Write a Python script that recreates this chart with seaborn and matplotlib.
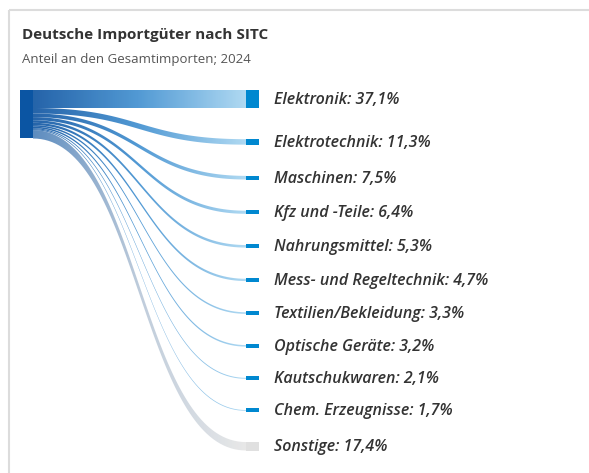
import numpy as np
import matplotlib
matplotlib.use("Agg")
import matplotlib.pyplot as plt
import seaborn as sns
from matplotlib.colors import LinearSegmentedColormap
from matplotlib.patches import Polygon, Rectangle

# Daten
kategorien = ["Elektronik", "Elektrotechnik", "Maschinen", "Kfz und -Teile",
              "Nahrungsmittel", "Mess- und Regeltechnik", "Textilien/Bekleidung",
              "Optische Geräte", "Kautschukwaren", "Chem. Erzeugnisse", "Sonstige"]
anteile = [37.1, 11.3, 7.5, 6.4, 5.3, 4.7, 3.3, 3.2, 2.1, 1.7, 17.4]

titel = "Deutsche Importgüter nach SITC"
untertitel = "Anteil an den Gesamtimporten; 2024"

sns.set_theme(style="white")
plt.rcParams["font.family"] = ["Open Sans", "DejaVu Sans"]

W, H = 589, 473
fig = plt.figure(figsize=(W / 100, H / 100), dpi=100)
ax = fig.add_axes([0, 0, 1, 1])

# Layout (Pixel)
src_x0, src_x1 = 20, 33
tgt_x0, tgt_x1 = 246, 259
top = 90
px_pro_prozent = 0.485
gap = 31.2

hoehen = np.array(anteile) * px_pro_prozent
src_top = top + np.concatenate([[0], np.cumsum(hoehen)[:-1]])
tgt_top = top + np.concatenate([[0], np.cumsum(hoehen + gap)[:-1]])

blau_grad = LinearSegmentedColormap.from_list(
    "blau", sns.blend_palette(["#0c52a0", "#3f8fd0", "#a6d5f1"], 64))
grau_grad = LinearSegmentedColormap.from_list(
    "grau", sns.blend_palette(["#4a7fb8", "#b8c7d8", "#e6e6e6"], 64))
grad = np.linspace(0, 1, 256).reshape(1, -1)


def bezier(y0, y1, n=80):
    t = np.linspace(0, 1, n)
    xm = (src_x1 + tgt_x0) / 2
    x = (1 - t) ** 3 * src_x1 + 3 * (1 - t) ** 2 * t * xm + 3 * (1 - t) * t ** 2 * xm + t ** 3 * tgt_x0
    y = (1 - t) ** 3 * y0 + 3 * (1 - t) ** 2 * t * y0 + 3 * (1 - t) * t ** 2 * y1 + t ** 3 * y1
    return x, y


# Flüsse (von unten nach oben zeichnen)
for i in reversed(range(len(kategorien))):
    xa, ya = bezier(src_top[i], tgt_top[i])
    xb, yb = bezier(src_top[i] + hoehen[i], tgt_top[i] + hoehen[i])
    pts = np.column_stack([np.concatenate([xa, xb[::-1]]),
                           np.concatenate([ya, yb[::-1]])])
    poly = Polygon(pts, closed=True, facecolor="none", edgecolor="none")
    ax.add_patch(poly)
    cmap = grau_grad if kategorien[i] == "Sonstige" else blau_grad
    im = ax.imshow(grad, cmap=cmap, extent=(src_x1, tgt_x0, H, 0),
                   aspect="auto", interpolation="bilinear", alpha=0.9, zorder=2)
    im.set_clip_path(poly)

# Quellknoten
ax.add_patch(Rectangle((src_x0, top), src_x1 - src_x0, hoehen.sum(),
                       facecolor="#0b55a3", edgecolor="none", zorder=3))

# Zielknoten + Beschriftungen
for i, (kat, wert) in enumerate(zip(kategorien, anteile)):
    mitte = tgt_top[i] + hoehen[i] / 2
    h = max(hoehen[i], 4.0)
    farbe = "#e0e0e0" if kat == "Sonstige" else "#0088d0"
    ax.add_patch(Rectangle((tgt_x0, mitte - h / 2), tgt_x1 - tgt_x0, h,
                           facecolor=farbe, edgecolor="none", zorder=3))
    zahl = f"{wert:.1f}".replace(".", ",")
    ax.text(274, mitte + 1, f"{kat}: {zahl}%", ha="left", va="center", fontsize=11.5,
            fontstyle="italic", fontweight="semibold", color="#333333", zorder=4)

# Titel
ax.text(22, 35, titel, ha="left", va="center", fontsize=11,
        fontweight="bold", color="#333333")
ax.text(22, 60, untertitel, ha="left", va="center", fontsize=9.5,
        color="#555555")

# Rahmen (oben und links)
ax.plot([9, W], [10, 10], color="#dcdcdc", lw=1.5, solid_capstyle="butt")
ax.plot([9, 9], [10, H], color="#dcdcdc", lw=1.5, solid_capstyle="butt")

ax.set_xlim(0, W)
ax.set_ylim(H, 0)
ax.axis("off")

fig.savefig("out.png", dpi=100)
